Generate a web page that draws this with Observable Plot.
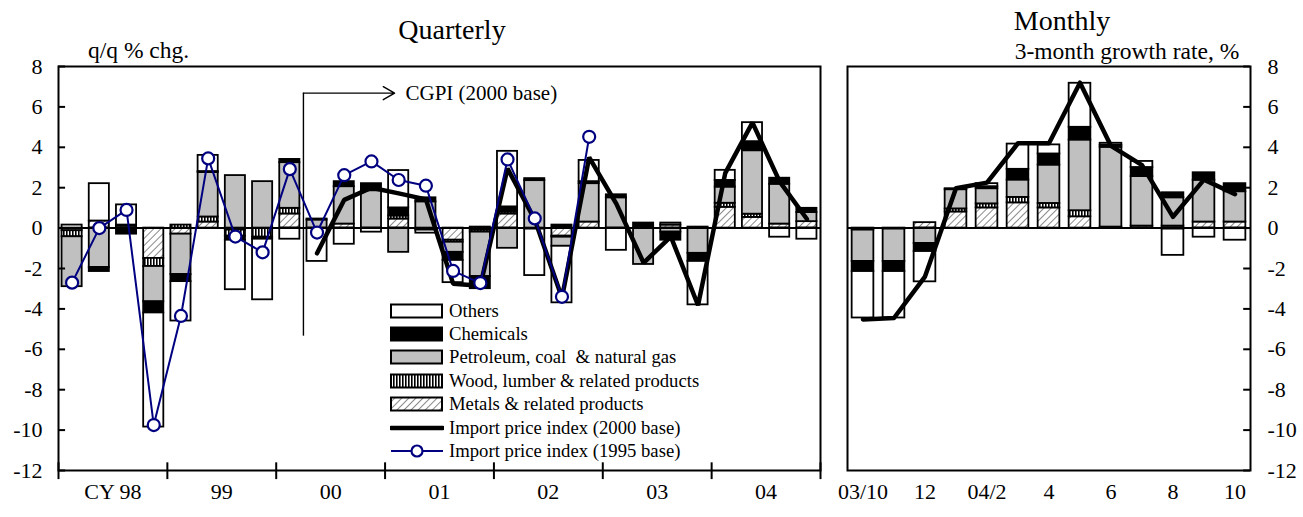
<!DOCTYPE html>
<html><head><meta charset="utf-8">
<script src="https://cdn.jsdelivr.net/npm/d3@7"></script>
<script src="https://cdn.jsdelivr.net/npm/@observablehq/plot@0.6"></script>
<style>
body{margin:0;background:#fff;font-family:"Liberation Serif","Times New Roman",serif;}
#wrap{position:relative;width:1303px;height:517px;overflow:hidden;}
.abs{position:absolute;white-space:nowrap;color:#000;line-height:1;}
.leg{position:absolute;left:390px;font-size:18.7px;}
.row{height:23.4px;display:flex;align-items:center;}
.row svg{margin-right:5px;flex:none;}
</style></head><body>
<svg width="0" height="0" style="position:absolute">
<defs>
<pattern id="hatch" patternUnits="userSpaceOnUse" width="5" height="5" patternTransform="rotate(45)">
 <rect width="5" height="5" fill="#fff"/>
 <line x1="0" y1="0" x2="0" y2="5" stroke="#8a8a8a" stroke-width="2"/>
</pattern>
<pattern id="vstripe" patternUnits="userSpaceOnUse" width="3" height="3">
 <rect width="3" height="3" fill="#fff"/>
 <rect width="1.6" height="3" fill="#000"/>
</pattern>
</defs></svg>
<div id="wrap"></div>
<script>
// ---------- data ----------
const quarterLabels = ["98Q1","98Q2","98Q3","98Q4","99Q1","99Q2","99Q3","99Q4",
  "00Q1","00Q2","00Q3","00Q4","01Q1","01Q2","01Q3","01Q4",
  "02Q1","02Q2","02Q3","02Q4","03Q1","03Q2","03Q3","03Q4",
  "04Q1","04Q2","04Q3","04Q4"];
const yearLabels = ["CY 98","99","00","01","02","03","04"];

const metalsQ    = [-0.13, 0.35, 0.1, -1.5, -0.3, 0.3, -0.1, 0, 0.7, 0, 0.2, 0, 0.45, -0.1, -0.6, -0.1, 0.7, 0, -0.4, 0.3, 0, 0, 0.15, 0.05, 1.03, 0.53, 0.2, 0.32];
const woodQ      = [-0.3, 0, 0.05, -0.4, 0.15, 0.25, -0.3, -0.45, 0.28, 0, 0, 0, 0.15, 0, -0.1, -0.1, 0.1, -0.05, -0.05, 0, 0, 0, 0, 0, 0.2, 0.16, 0, 0];
const petroleumQ = [-2.47, -1.95, 0, -1.75, -2.0, 2.2, 2.6, 2.3, 2.26, 0.4, 1.85, 1.85, -1.2, 1.3, -0.5, -2.2, -1.0, 2.35, -0.45, 1.9, 1.5, -1.8, -0.2, -1.25, 0.8, 3.14, 1.97, 0.45];
const chemicalsQ = [0, -0.2, -0.3, -0.55, -0.35, 0.05, -0.2, -0.1, 0.16, 0.05, 0.25, 0.35, 0.4, 0.2, -0.4, -0.6, 0.25, 0.1, 0.15, 0.1, 0.15, 0.25, -0.4, -0.4, 0.33, 0.45, 0.3, 0.21];
const othersQ    = [0.15, 1.85, 1.0, -5.65, -1.95, 0.8, -2.45, -3.0, -0.55, -1.65, -0.8, -0.2, 1.85, -0.15, -1.1, 0.05, 2.75, -2.3, -2.8, 1.05, -1.1, 0, 0.1, -2.15, 0.5, 0.94, -0.45, -0.55];

const import1995Q = [-2.7, 0.0, 0.9, -9.75, -4.35, 3.45, -0.42, -1.2, 2.92, -0.22, 2.62, 3.3, 2.38, 2.1, -2.12, -2.72, 3.4, 0.48, -3.4, 4.52];
const import2000Q = [null, null, null, null, null, null, null, null, null,
  -1.25, 1.4, 2.0, 1.72, 1.42, -2.75, -2.85, 2.95, 0.42, -3.45, 3.5, 1.2, -1.72, -0.42, -3.82, 2.72, 5.22, 2.3, 0.45];

const monthLabels = ["03/10","03/11","03/12","04/1","04/2","04/3","04/4","04/5","04/6","04/7","04/8","04/9","04/10"];
const monthTickLabels = ["03/10","12","04/2","4","6","8","10"];

const metalsM    = [0, 0, 0.27, 0.8, 1.0, 1.25, 1.0, 0.56, 0.05, 0.1, 0.1, 0.3, 0.3];
const woodM      = [-0.1, -0.05, 0, 0.15, 0.2, 0.27, 0.22, 0.3, 0, 0, -0.05, 0, 0];
const petroleumM = [-1.55, -1.6, -0.76, 0.95, 0.75, 0.86, 1.9, 3.5, 3.95, 2.45, 1.4, 2.07, 1.5];
const chemicalsM = [-0.5, -0.5, -0.4, 0.05, 0.1, 0.53, 0.55, 0.63, 0.1, 0.45, 0.25, 0.37, 0.4];
const othersM    = [-2.3, -2.3, -1.5, 0, 0.15, 1.25, 0.45, 2.18, 0.1, 0.3, -1.3, -0.45, -0.6];
const import2000M = [-4.52, -4.45, -2.4, 1.97, 2.25, 4.2, 4.2, 7.2, 4.07, 3.12, 0.56, 2.4, 1.68];

const yTicks = [-12,-10,-8,-6,-4,-2,0,2,4,6,8];
const categories = ["Metals & related products","Wood, lumber & related products","Petroleum, coal  & natural gas","Chemicals","Others"];
const fills = ["url(#hatch)","url(#vstripe)","#c0c0c0","#000","#fff"];

// ---------- helpers ----------
function stackSegs(seriesList, n, halfW) {
  const segs = [];
  for (let i = 0; i < n; i++) {
    let pos = 0, neg = 0;
    seriesList.forEach((vals, k) => {
      const v = vals[i];
      if (!v) return;
      if (v > 0) { segs.push({k, x1: i + 0.5 - halfW, x2: i + 0.5 + halfW, y1: pos, y2: pos + v}); pos += v; }
      else { segs.push({k, x1: i + 0.5 - halfW, x2: i + 0.5 + halfW, y1: neg, y2: neg + v}); neg += v; }
    });
  }
  return segs;
}
function barMarks(segs) {
  return categories.map((c, k) => Plot.rect(segs.filter(d => d.k === k),
    {x1: "x1", x2: "x2", y1: "y1", y2: "y2", fill: fills[k], stroke: "#000", strokeWidth: 1.8}));
}
const font = '"Liberation Serif","Times New Roman",serif';
const wrap = document.getElementById("wrap");
const TICK_FS = 22;

// ---------- quarterly ----------
const segQ = stackSegs([metalsQ, woodQ, petroleumQ, chemicalsQ, othersQ], quarterLabels.length, 0.37);
const lineQ2000 = import2000Q.map((v, i) => ({x: i + 0.5, y: v})).filter(d => d.y !== null);
const lineQ1995 = import1995Q.map((v, i) => ({x: i + 0.5, y: v}));
const nQ = quarterLabels.length;

const plotQ = Plot.plot({
  width: 840, height: 517,
  marginLeft: 58, marginRight: 20, marginTop: 66, marginBottom: 47,
  x: {domain: [0, nQ], axis: null},
  y: {domain: [-12, 8], axis: null},
  style: {fontFamily: font, fontSize: TICK_FS + "px", background: "transparent", overflow: "visible", color: "#000"},
  marks: [
    ...barMarks(segQ),
    Plot.ruleY([0], {stroke: "#000", strokeWidth: 2}),
    Plot.ruleX([9], {y1: -5.35, y2: 6.68, stroke: "#000", strokeWidth: 1.4}),
    Plot.arrow([0], {x1: 9, x2: 12.35, y1: 6.68, y2: 6.68, stroke: "#000", strokeWidth: 1.4, headLength: 14, bend: 0}),
    Plot.text(["CGPI (2000 base)"], {x: 12.75, y: 6.68, textAnchor: "start", fontSize: 21}),
    Plot.line(lineQ2000, {x: "x", y: "y", stroke: "#000", strokeWidth: 4.5, strokeLinejoin: "miter"}),
    Plot.line(lineQ1995, {x: "x", y: "y", stroke: "#000080", strokeWidth: 2}),
    Plot.dot(lineQ1995, {x: "x", y: "y", r: 6, fill: "#fff", stroke: "#000080", strokeWidth: 2.2}),
    Plot.ruleY(yTicks, {x1: 0, x2: 0.26, stroke: "#000", strokeWidth: 2}),
    Plot.axisY(yTicks, {anchor: "left", tickSize: 0, tickPadding: 16, tickFormat: d => String(d), fontSize: TICK_FS}),
    Plot.ruleX(d3.range(0, nQ + 1, 4), {y1: -11.62, y2: -12.45, stroke: "#000", strokeWidth: 2}),
    Plot.text(yearLabels, {x: (d, i) => i * 4 + 2, frameAnchor: "bottom", dy: 28, fontSize: TICK_FS}),
    Plot.frame({stroke: "#000", strokeWidth: 2})
  ]
});
plotQ.style.position = "absolute"; plotQ.style.left = "0px"; plotQ.style.top = "0px";
wrap.appendChild(plotQ);

// ---------- monthly ----------
const nM = monthLabels.length;
const segM = stackSegs([metalsM, woodM, petroleumM, chemicalsM, othersM], nM, 0.35);
const lineM = import2000M.map((v, i) => ({x: i + 0.5, y: v}));
const plotM = Plot.plot({
  width: 483, height: 517,
  marginLeft: 27, marginRight: 53, marginTop: 66, marginBottom: 47,
  x: {domain: [0, nM], axis: null},
  y: {domain: [-12, 8], axis: null},
  style: {fontFamily: font, fontSize: TICK_FS + "px", background: "transparent", overflow: "visible", color: "#000"},
  marks: [
    ...barMarks(segM),
    Plot.ruleY([0], {stroke: "#000", strokeWidth: 2}),
    Plot.line(lineM, {x: "x", y: "y", stroke: "#000", strokeWidth: 4.5}),
    Plot.ruleY(yTicks, {x1: nM - 0.22, x2: nM, stroke: "#000", strokeWidth: 2}),
    Plot.axisY(yTicks, {anchor: "right", tickSize: 0, tickPadding: 17, tickFormat: d => String(d), fontSize: TICK_FS}),
    Plot.text(monthTickLabels, {x: (d, i) => i * 2 + 0.5, frameAnchor: "bottom", dy: 28, fontSize: TICK_FS}),
    Plot.frame({stroke: "#000", strokeWidth: 2})
  ]
});
plotM.style.position = "absolute"; plotM.style.left = "820px"; plotM.style.top = "0px";
wrap.appendChild(plotM);

// ---------- titles ----------
function addText(txt, css) {
  const d = document.createElement("div");
  d.className = "abs"; d.textContent = txt;
  Object.assign(d.style, css);
  wrap.appendChild(d);
}
addText("Quarterly", {left: "452px", top: "16px", fontSize: "28px", transform: "translateX(-50%)"});
addText("q/q % chg.", {left: "88px", top: "39px", fontSize: "23.5px"});
addText("Monthly", {left: "1062px", top: "7px", fontSize: "28px", transform: "translateX(-50%)"});
addText("3-month growth rate, %", {left: "1127px", top: "40px", fontSize: "23.5px", transform: "translateX(-50%)"});

// ---------- legend ----------
const leg = document.createElement("div");
leg.className = "leg"; leg.style.top = "299px";
const NS = "http://www.w3.org/2000/svg";
const legendItems = [
  {label: "Others", type: "rect", fill: fills[4]},
  {label: "Chemicals", type: "rect", fill: fills[3]},
  {label: categories[2], type: "rect", fill: fills[2]},
  {label: categories[1], type: "rect", fill: fills[1]},
  {label: categories[0], type: "rect", fill: fills[0]},
  {label: "Import price index (2000 base)", type: "thick"},
  {label: "Import price index (1995 base)", type: "dot"}
];
legendItems.forEach(it => {
  const row = document.createElement("div"); row.className = "row";
  const s = document.createElementNS(NS, "svg");
  s.setAttribute("width", "54"); s.setAttribute("height", "18");
  if (it.type === "rect") {
    s.innerHTML = `<rect x="1" y="2.5" width="51" height="13" fill="${it.fill}" stroke="#000" stroke-width="2"/>`;
  } else if (it.type === "thick") {
    s.innerHTML = `<line x1="1" y1="9" x2="53" y2="9" stroke="#000" stroke-width="4.5" stroke-linecap="round"/>`;
  } else {
    s.innerHTML = `<line x1="1" y1="9" x2="53" y2="9" stroke="#000080" stroke-width="2"/><circle cx="27" cy="9" r="5.5" fill="#fff" stroke="#000080" stroke-width="2.2"/>`;
  }
  row.appendChild(s);
  const t = document.createElement("span"); t.textContent = it.label;
  t.style.whiteSpace = "pre";
  row.appendChild(t);
  leg.appendChild(row);
});
wrap.appendChild(leg);
</script>
</body></html>
